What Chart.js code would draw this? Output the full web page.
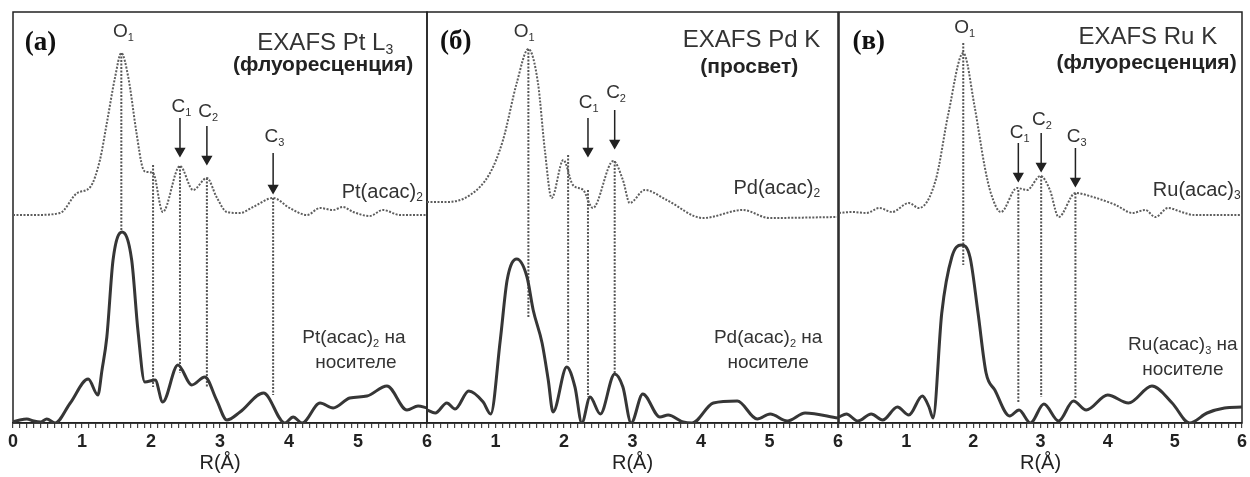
<!DOCTYPE html>
<html>
<head>
<meta charset="utf-8">
<script src="https://cdn.jsdelivr.net/npm/chart.js@4.4.0/dist/chart.umd.min.js"></script>
<style>
  body { margin: 0; background: #fff; }
  canvas { position: absolute; left: 0; top: 0; }
</style>
</head>
<body>
<canvas id="panelA" width="1250" height="477"></canvas>
<canvas id="panelB" width="1250" height="477"></canvas>
<canvas id="panelC" width="1250" height="477"></canvas>
<script>
// --- data: |FT| in arbitrary units, R in Å
// (a) Pt L3
const ptR      = [0, 0.3, 0.68, 0.93, 1.12, 1.26, 1.36, 1.48, 1.57, 1.67, 1.79, 1.88, 1.94, 2.03, 2.17, 2.42, 2.61, 2.81, 2.95, 3.1, 3.29, 3.48, 3.77, 4.01, 4.26, 4.45, 4.64, 4.78, 4.93, 5.17, 5.36, 5.61, 6];
const ptRef    = [208, 208, 210, 230, 236, 263, 300, 346, 370, 346, 290, 255, 251, 250, 211, 257, 233, 245, 226, 211, 210, 216, 225, 215, 208, 215, 213, 216, 211, 207, 213, 208, 208];
const ptSupR   = [0, 0.1, 0.2, 0.3, 0.4, 0.49, 0.61, 0.83, 1.09, 1.23, 1.29, 1.36, 1.45, 1.58, 1.72, 1.81, 1.91, 2.06, 2.17, 2.39, 2.59, 2.78, 2.95, 3.1, 3.29, 3.63, 3.94, 4.06, 4.19, 4.45, 4.64, 4.88, 5.13, 5.42, 5.71, 5.87, 6];
const ptSup    = [1, 3, 4, 2, 1, 4, 0, 20, 44, 28, 53, 86, 163, 191, 163, 93, 41, 43, 21, 58, 38, 46, 23, 3, 11, 30, 0, 6, 0, 20, 15, 25, 27, 37, 13, 17, 15];
const ptMarkR  = [1.57, 2.03, 2.42, 2.81, 3.77];
const ptMarkTop = [370, 258, 257, 245, 225];
const ptMarkBot = [191, 36, 50, 36, 28];
const ptArrowR = [2.42, 2.81, 3.77];
const ptArrowTop = [305, 297, 270];
const ptArrowTip = [268, 260, 231];

// (б) Pd K
const pdR      = [0, 0.29, 0.63, 0.92, 1.11, 1.31, 1.48, 1.62, 1.72, 1.82, 1.99, 2.13, 2.28, 2.42, 2.72, 2.86, 2.96, 3.18, 3.5, 4.03, 4.61, 5.0, 6];
const pdRef    = [221, 221, 228, 250, 283, 340, 374, 340, 273, 225, 263, 238, 233, 215, 262, 243, 220, 233, 223, 205, 213, 205, 206];
const pdSupR   = [0, 0.12, 0.29, 0.41, 0.61, 0.82, 0.93, 1.07, 1.17, 1.31, 1.46, 1.55, 1.68, 1.77, 1.84, 2.04, 2.16, 2.26, 2.38, 2.53, 2.74, 2.86, 2.98, 3.15, 3.4, 3.52, 3.74, 3.87, 4.18, 4.53, 4.82, 5.01, 5.26, 5.52, 6];
const pdSup    = [13, 10, 20, 14, 32, 21, 9, 83, 143, 164, 146, 113, 80, 43, 11, 56, 36, 0, 26, 9, 49, 36, 0, 29, 6, 8, 1, 0, 20, 22, 4, 9, 2, 10, 5];
const pdMarkR  = [1.48, 2.06, 2.35, 2.74];
const pdMarkTop = [374, 268, 233, 262];
const pdMarkBot = [105, 61, 26, 50];
const pdArrowR = [2.35, 2.74];
const pdArrowTop = [305, 313];
const pdArrowTip = [268, 276];

// (в) Ru K
const ruR      = [0, 0.2, 0.41, 0.6, 0.79, 1.04, 1.19, 1.44, 1.63, 1.85, 2.02, 2.17, 2.26, 2.41, 2.65, 2.8, 3.0, 3.14, 3.27, 3.52, 3.78, 4.12, 4.37, 4.56, 4.71, 4.9, 5.1, 5.29, 6];
const ruRef    = [210, 211, 210, 215, 211, 220, 215, 243, 310, 370, 316, 256, 230, 211, 235, 233, 247, 233, 206, 230, 226, 218, 210, 213, 206, 215, 211, 208, 208];
const ruSupR   = [0, 0.11, 0.28, 0.48, 0.65, 0.87, 1.04, 1.24, 1.34, 1.4, 1.53, 1.68, 1.82, 1.95, 2.07, 2.19, 2.32, 2.54, 2.68, 2.85, 3.05, 3.27, 3.49, 3.68, 4.0, 4.31, 4.66, 4.96, 5.22, 5.48, 5.74, 6];
const ruSup    = [6, 9, 2, 9, 3, 16, 8, 27, 16, 5, 110, 166, 178, 166, 110, 50, 33, 7, 13, 0, 19, 2, 22, 13, 28, 20, 37, 20, 0, 10, 15, 16];
const ruMarkR  = [1.85, 2.67, 3.01, 3.52];
const ruMarkTop = [380, 233, 247, 230];
const ruMarkBot = [158, 20, 26, 25];
const ruArrowR = [2.67, 3.01, 3.52];
const ruArrowTop = [280, 290, 275];
const ruArrowTip = [243, 253, 238];

const xTicks = [0, 1, 2, 3, 4, 5, 6];

const SANS = '"Liberation Sans", Arial, sans-serif';
const SERIF = '"Liberation Serif", "Times New Roman", serif';

// text with "_n" as subscript
function drawRich(ctx, str, x, y, size, weight, family, align) {
    const parts = [];
    str.split(/(_\d)/).forEach(s => {
        if (!s) return;
        if (s[0] === '_') parts.push({ t: s.slice(1), sub: true });
        else parts.push({ t: s, sub: false });
    });
    const font = sub => `${weight} ${sub ? Math.round(size * 0.6) : size}px ${family}`;
    let w = 0;
    parts.forEach(p => { ctx.font = font(p.sub); p.w = ctx.measureText(p.t).width; w += p.w; });
    let cx = align === 'right' ? x - w : align === 'center' ? x - w / 2 : x;
    ctx.textAlign = 'left';
    ctx.textBaseline = 'middle';
    parts.forEach(p => {
        ctx.font = font(p.sub);
        ctx.fillText(p.t, cx, p.sub ? y + size * 0.3 : y);
        cx += p.w;
    });
}

const framePlugin = {
    id: 'frame',
    beforeDatasetsDraw(chart) {
        const { ctx, chartArea: a } = chart;
        ctx.save();
        ctx.strokeStyle = '#222';
        ctx.lineWidth = 1.5;
        ctx.strokeRect(a.left, a.top, a.right - a.left, a.bottom - a.top);
        ctx.restore();
    }
};

const notesPlugin = {
    id: 'notes',
    afterDraw(chart, args, opts) {
        const { ctx } = chart;
        const xs = chart.scales.x, ys = chart.scales.y;
        ctx.save();
        (opts.items || []).forEach(n => {
            ctx.fillStyle = n.color || '#333';
            drawRich(ctx, n.text, xs.getPixelForValue(n.r), ys.getPixelForValue(n.h),
                n.size, n.weight || 'normal', n.family || SANS, n.align || 'center');
        });
        ctx.restore();
    }
};

function makePanel(id, left, right, curves, marks, arrows, notes, showZero) {
    const datasets = [
        {
            data: curves.refR.map((r, i) => ({ x: r, y: curves.ref[i] })),
            borderColor: '#5e5e5e', borderWidth: 2, borderDash: [2, 1.5],
            pointRadius: 0, cubicInterpolationMode: 'monotone'
        },
        {
            data: curves.supR.map((r, i) => ({ x: r, y: curves.sup[i] })),
            borderColor: '#363636', borderWidth: 3,
            pointRadius: 0, cubicInterpolationMode: 'monotone'
        }
    ];
    marks.r.forEach((r, i) => {
        datasets.push({
            data: [{ x: r, y: marks.top[i] }, { x: r, y: marks.bot[i] }],
            borderColor: '#555', borderWidth: 2, borderDash: [2, 1.5], pointRadius: 0
        });
    });
    arrows.r.forEach((r, i) => {
        datasets.push({
            data: [{ x: r, y: arrows.top[i] }, { x: r, y: arrows.tip[i] + 4 }],
            borderColor: '#222', backgroundColor: '#222', borderWidth: 1.5,
            pointRadius: [0, 5], pointStyle: 'triangle', rotation: 180
        });
    });

    new Chart(document.getElementById(id), {
        type: 'line',
        data: { datasets: datasets },
        options: {
            responsive: false,
            animation: false,
            events: [],
            layout: { padding: { left: left, right: 1250 - right, top: 12, bottom: 0 } },
            plugins: {
                legend: { display: false },
                tooltip: { enabled: false },
                notes: { items: notes }
            },
            scales: {
                x: {
                    type: 'linear',
                    min: 0,
                    max: 6,
                    afterFit: scale => { scale.height = 54; },
                    ticks: {
                        stepSize: 0.1,
                        autoSkip: false,
                        maxRotation: 0,
                        padding: 3,
                        color: '#222',
                        font: { family: SANS, size: 18, weight: 'bold' },
                        callback: v => {
                            const k = Math.round(v);
                            if (Math.abs(v - k) > 1e-6 || !xTicks.includes(k)) return '';
                            if (k === 0 && !showZero) return '';
                            return String(k);
                        }
                    },
                    grid: { drawOnChartArea: false, tickLength: 5, color: '#444', lineWidth: 1.2 },
                    border: { color: '#222', width: 1.5 },
                    title: {
                        display: true,
                        text: 'R(Å)',
                        color: '#222',
                        font: { family: SANS, size: 20 },
                        padding: { top: 0, bottom: 2 }
                    }
                },
                y: { display: false, min: 0, max: 411 }
            }
        },
        plugins: [framePlugin, notesPlugin]
    });
}

makePanel('panelA', 13, 427,
    { refR: ptR, ref: ptRef, supR: ptSupR, sup: ptSup },
    { r: ptMarkR, top: ptMarkTop, bot: ptMarkBot },
    { r: ptArrowR, top: ptArrowTop, tip: ptArrowTip },
    [
        { text: '(a)', r: 0.17, h: 380, size: 27, weight: 'bold', family: SERIF, align: 'left', color: '#111' },
        { text: 'EXAFS Pt L_3', r: 5.51, h: 380, size: 24, align: 'right' },
        { text: '(флуоресценция)', r: 5.8, h: 358, size: 21, weight: 'bold', align: 'right', color: '#222' },
        { text: 'Pt(acac)_2', r: 5.94, h: 231, size: 20, align: 'right' },
        { text: 'Pt(acac)_2 на', r: 4.94, h: 85, size: 19 },
        { text: 'носителе', r: 4.97, h: 60, size: 19 },
        { text: 'O_1', r: 1.6, h: 391, size: 19 },
        { text: 'C_1', r: 2.44, h: 316, size: 19 },
        { text: 'C_2', r: 2.83, h: 311, size: 19 },
        { text: 'C_3', r: 3.79, h: 286, size: 19 }
    ], true);

makePanel('panelB', 427, 838,
    { refR: pdR, ref: pdRef, supR: pdSupR, sup: pdSup },
    { r: pdMarkR, top: pdMarkTop, bot: pdMarkBot },
    { r: pdArrowR, top: pdArrowTop, tip: pdArrowTip },
    [
        { text: '(б)', r: 0.19, h: 381, size: 27, weight: 'bold', family: SERIF, align: 'left', color: '#111' },
        { text: 'EXAFS Pd K', r: 5.74, h: 383, size: 24, align: 'right' },
        { text: '(просвет)', r: 5.42, h: 356, size: 21, weight: 'bold', align: 'right', color: '#222' },
        { text: 'Pd(acac)_2', r: 5.74, h: 235, size: 20, align: 'right' },
        { text: 'Pd(acac)_2 на', r: 4.98, h: 85, size: 19 },
        { text: 'носителе', r: 4.98, h: 60, size: 19 },
        { text: 'O_1', r: 1.42, h: 391, size: 19 },
        { text: 'C_1', r: 2.36, h: 320, size: 19 },
        { text: 'C_2', r: 2.76, h: 330, size: 19 }
    ], false);

makePanel('panelC', 839, 1249,
    { refR: ruR, ref: ruRef, supR: ruSupR, sup: ruSup },
    { r: ruMarkR, top: ruMarkTop, bot: ruMarkBot },
    { r: ruArrowR, top: ruArrowTop, tip: ruArrowTip },
    [
        { text: '(в)', r: 0.2, h: 381, size: 27, weight: 'bold', family: SERIF, align: 'left', color: '#111' },
        { text: 'EXAFS Ru K', r: 5.63, h: 386, size: 24, align: 'right' },
        { text: '(флуоресценция)', r: 5.92, h: 360, size: 21, weight: 'bold', align: 'right', color: '#222' },
        { text: 'Ru(acac)_3', r: 5.98, h: 233, size: 20, align: 'right' },
        { text: 'Ru(acac)_3 на', r: 5.12, h: 78, size: 19 },
        { text: 'носителе', r: 5.12, h: 53, size: 19 },
        { text: 'O_1', r: 1.87, h: 395, size: 19 },
        { text: 'C_1', r: 2.69, h: 290, size: 19 },
        { text: 'C_2', r: 3.02, h: 303, size: 19 },
        { text: 'C_3', r: 3.54, h: 286, size: 19 }
    ], false);
</script>
</body>
</html>
